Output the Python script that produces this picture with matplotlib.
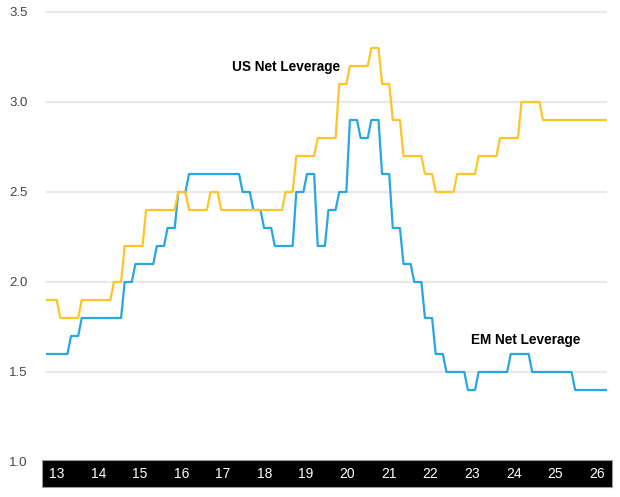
import numpy as np
import matplotlib
matplotlib.use("Agg")
import matplotlib.pyplot as plt

plt.rcParams['font.family'] = ['Liberation Sans', 'DejaVu Sans']

# quarterly net leverage (x EBITDA), one value per quarter, held for 3 months
us_quarterly = [1.9, 1.9, 1.8, 1.8, 1.9, 1.9, 1.9, 2.0, 2.2, 2.2,
                2.4, 2.4, 2.4, 2.5, 2.4, 2.4, 2.5, 2.4, 2.4, 2.4,
                2.4, 2.4, 2.4, 2.5, 2.7, 2.7, 2.8, 2.8, 3.1, 3.2,
                3.2, 3.3, 3.1, 2.9, 2.7, 2.7, 2.6, 2.5, 2.5, 2.6,
                2.6, 2.7, 2.7, 2.8, 2.8, 3.0, 3.0, 2.9, 2.9, 2.9,
                2.9, 2.9, 2.9, 2.9]
em_quarterly = [1.6, 1.6, 1.6, 1.7, 1.8, 1.8, 1.8, 1.8, 2.0, 2.1,
                2.1, 2.2, 2.3, 2.5, 2.6, 2.6, 2.6, 2.6, 2.6, 2.5,
                2.4, 2.3, 2.2, 2.2, 2.5, 2.6, 2.2, 2.4, 2.5, 2.9,
                2.8, 2.9, 2.6, 2.3, 2.1, 2.0, 1.8, 1.6, 1.5, 1.5,
                1.4, 1.5, 1.5, 1.5, 1.6, 1.6, 1.5, 1.5, 1.5, 1.5,
                1.4, 1.4, 1.4, 1.4]
year_labels = ['13', '14', '15', '16', '17', '18', '19',
               '20', '21', '22', '23', '24', '25', '26']
y_ticks = [1.0, 1.5, 2.0, 2.5, 3.0, 3.5]

# monthly series: each quarterly value repeated 3 times
us = np.repeat(us_quarterly, 3)
em = np.repeat(em_quarterly, 3)
months = np.arange(len(us)) - 3

US_COL = '#FFC425'
EM_COL = '#27A6E1'

fig = plt.figure(figsize=(6.2, 4.97), dpi=100)

ax = fig.add_axes([46 / 620, 31.4 / 497, 561.3 / 620, 457.2 / 497])
ax.plot(months, em, color=EM_COL, lw=1.6, zorder=3)
ax.plot(months, us, color=US_COL, lw=1.6, zorder=4)
ax.set_xlim(-1, 156)
ax.set_ylim(0.98, 3.52)
ax.set_yticks(y_ticks)
ax.set_yticklabels(['%.1f' % v for v in y_ticks])
ax.set_xticks([])
ax.tick_params(axis='y', length=0, pad=13, labelsize=9.5, labelcolor='#444444')
ax.grid(axis='y', color='#e9e9e9', lw=1.6)
for s in ax.spines.values():
    s.set_visible(False)

ax.text(51.1, 3.174, 'US Net Leverage', fontsize=9.8, fontweight='bold',
        color='black', ha='left', va='baseline')
ax.text(117.8, 1.654, 'EM Net Leverage', fontsize=9.8, fontweight='bold',
        color='black', ha='left', va='baseline')

# black year band under the chart
band = fig.add_axes([41.7 / 620, 10 / 497, 570 / 620, 27 / 497])
band.set_facecolor('black')
band.set_xlim(-0.361, len(year_labels) - 1 + 0.361)
band.set_ylim(0, 1)
band.set_xticks([])
band.set_yticks([])
for s in band.spines.values():
    s.set_color('#999999')
    s.set_linewidth(0.8)
for i, lab in enumerate(year_labels):
    band.text(i, 0.47, lab, color='white', fontsize=10, ha='center', va='center')

fig.savefig('out.png', dpi=100)
